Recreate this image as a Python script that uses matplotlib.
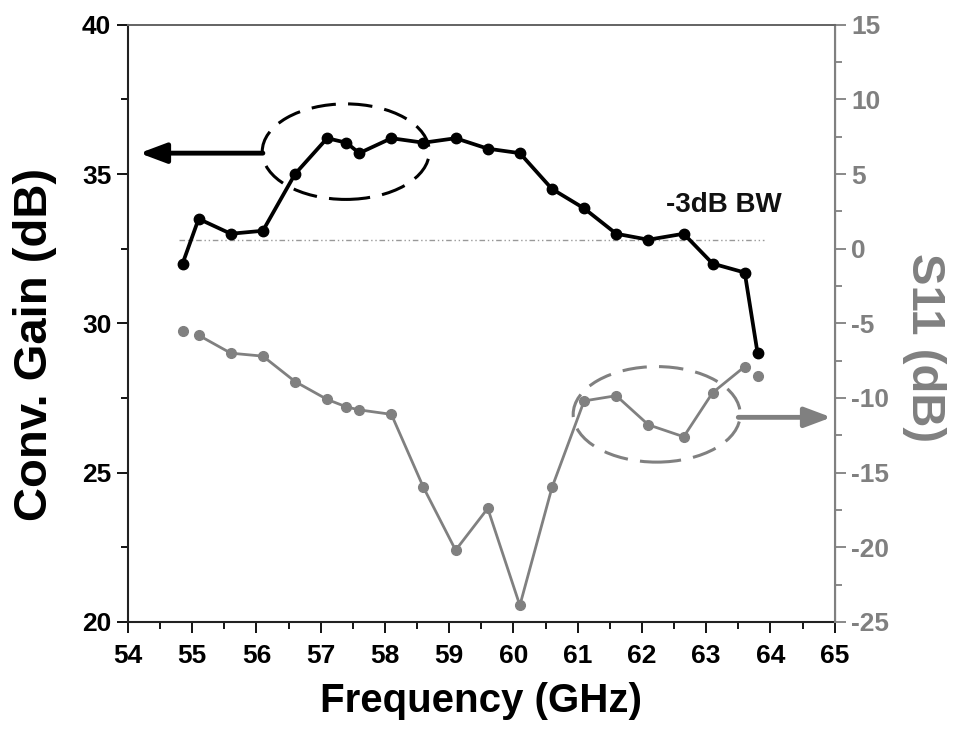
import matplotlib
matplotlib.use("Agg")
import matplotlib.pyplot as plt
from matplotlib.patches import Ellipse
from matplotlib.ticker import MultipleLocator

plt.rcParams['font.family'] = ['Liberation Sans', 'DejaVu Sans']
plt.rcParams['font.weight'] = 'bold'
plt.rcParams['axes.unicode_minus'] = False

# Measured data
freq_ghz = [54.85, 55.1, 55.6, 56.1, 56.6, 57.1, 57.4, 57.6, 58.1, 58.6, 59.1,
            59.6, 60.1, 60.6, 61.1, 61.6, 62.1, 62.65, 63.1, 63.6, 63.8]
conv_gain_db = [32.0, 33.5, 33.0, 33.1, 35.0, 36.2, 36.05, 35.7, 36.2, 36.05, 36.2,
                35.85, 35.7, 34.5, 33.85, 33.0, 32.8, 33.0, 32.0, 31.7, 29.0]
s11_db = [-5.5, -5.8, -7.0, -7.2, -8.9, -10.1, -10.6, -10.8, -11.1, -16.0, -20.2,
          -17.4, -23.9, -16.0, -10.2, -9.85, -11.8, -12.6, -9.65, -7.9, -8.5]
bw_level_db = 32.8
bw_span_ghz = [54.8, 63.9]

BLACK = '#000000'
GRAY = '#808080'

fig = plt.figure(figsize=(9.55, 7.51), dpi=100)
ax = fig.add_axes([0.134, 0.172, 0.740, 0.795])
ax2 = ax.twinx()

# conversion gain
ax.plot(freq_ghz, conv_gain_db, color=BLACK, lw=2.7, marker='o', ms=7.5, zorder=4)
# -3 dB bandwidth reference
ax.plot(bw_span_ghz, [bw_level_db, bw_level_db], color='#999999', lw=1.0,
        ls=(0, (4, 2, 1, 2, 1, 2)), zorder=2)
ax.text(63.28, 33.95, '-3dB BW', fontsize=20, fontweight='bold', ha='center',
        va='center', color='#111111')

# S11 (first and last samples shown as isolated points)
ax2.plot(freq_ghz[1:-1], s11_db[1:-1], color=GRAY, lw=2.0, zorder=3)
ax2.plot(freq_ghz, s11_db, color=GRAY, lw=0, marker='o', ms=7, zorder=3)

ax.set_xlim(54, 65)
ax.set_ylim(20, 40)
ax2.set_ylim(-25, 15)

ax.xaxis.set_major_locator(MultipleLocator(1))
ax.xaxis.set_minor_locator(MultipleLocator(0.5))
ax.yaxis.set_major_locator(MultipleLocator(5))
ax.yaxis.set_minor_locator(MultipleLocator(2.5))
ax2.yaxis.set_major_locator(MultipleLocator(5))
ax2.yaxis.set_minor_locator(MultipleLocator(2.5))

ax.tick_params(axis='both', which='major', direction='out', length=8, width=1.3,
               labelsize=19, colors=BLACK, pad=4)
ax.tick_params(axis='x', which='major', pad=8)
ax.tick_params(axis='both', which='minor', direction='out', length=5, width=1.3)
ax2.tick_params(axis='y', which='major', direction='out', length=8, width=1.3,
                labelsize=19, colors=GRAY, labelcolor=GRAY, pad=4)
ax2.tick_params(axis='y', which='minor', direction='out', length=5, width=1.3,
                colors=GRAY)
for lbl in ax.get_xticklabels() + ax.get_yticklabels() + ax2.get_yticklabels():
    lbl.set_fontweight('bold')

for sp in ['left', 'bottom']:
    ax.spines[sp].set_linewidth(1.5)
    ax.spines[sp].set_color('#222222')
ax.spines['top'].set_color('#666666')
ax.spines['top'].set_linewidth(1.3)
ax2.spines['right'].set_color(GRAY)
ax2.spines['right'].set_linewidth(1.5)
ax2.spines['top'].set_color('#666666')
ax2.spines['top'].set_linewidth(1.3)
ax2.spines['left'].set_visible(False)
ax2.spines['bottom'].set_visible(False)

ax.set_xlabel('Frequency (GHz)', fontsize=29, fontweight='bold', labelpad=10)
ax.set_ylabel('Conv. Gain (dB)', fontsize=34, fontweight='bold', va='center')
ax.yaxis.set_label_coords(-0.131, 0.464)
ax2.set_ylabel('S11 (dB)', fontsize=34, fontweight='bold', color=GRAY,
               rotation=270, va='center')
ax2.yaxis.set_label_coords(1.127, 0.459)

# call-out ellipses and arrows indicating each curve's axis
ax.add_patch(Ellipse((57.39, 35.75), 2.6, 3.2, fill=False, ec=BLACK, lw=2.2,
                     ls=(0, (8, 4)), zorder=5))
ax.annotate('', xy=(54.18, 35.7), xytext=(56.1, 35.7),
            arrowprops=dict(arrowstyle='-|>,head_length=1.6,head_width=0.6',
                            color=BLACK, lw=3.5, shrinkA=0, shrinkB=0), zorder=5)
ax2.add_patch(Ellipse((62.23, -11.1), 2.6, 6.4, fill=False, ec=GRAY, lw=2.2,
                      ls=(0, (8, 4)), zorder=5))
ax2.annotate('', xy=(64.95, -11.3), xytext=(63.5, -11.3),
             arrowprops=dict(arrowstyle='-|>,head_length=1.6,head_width=0.6',
                             color=GRAY, lw=3.5, shrinkA=0, shrinkB=0), zorder=5)

fig.savefig('out.png', dpi=100)
